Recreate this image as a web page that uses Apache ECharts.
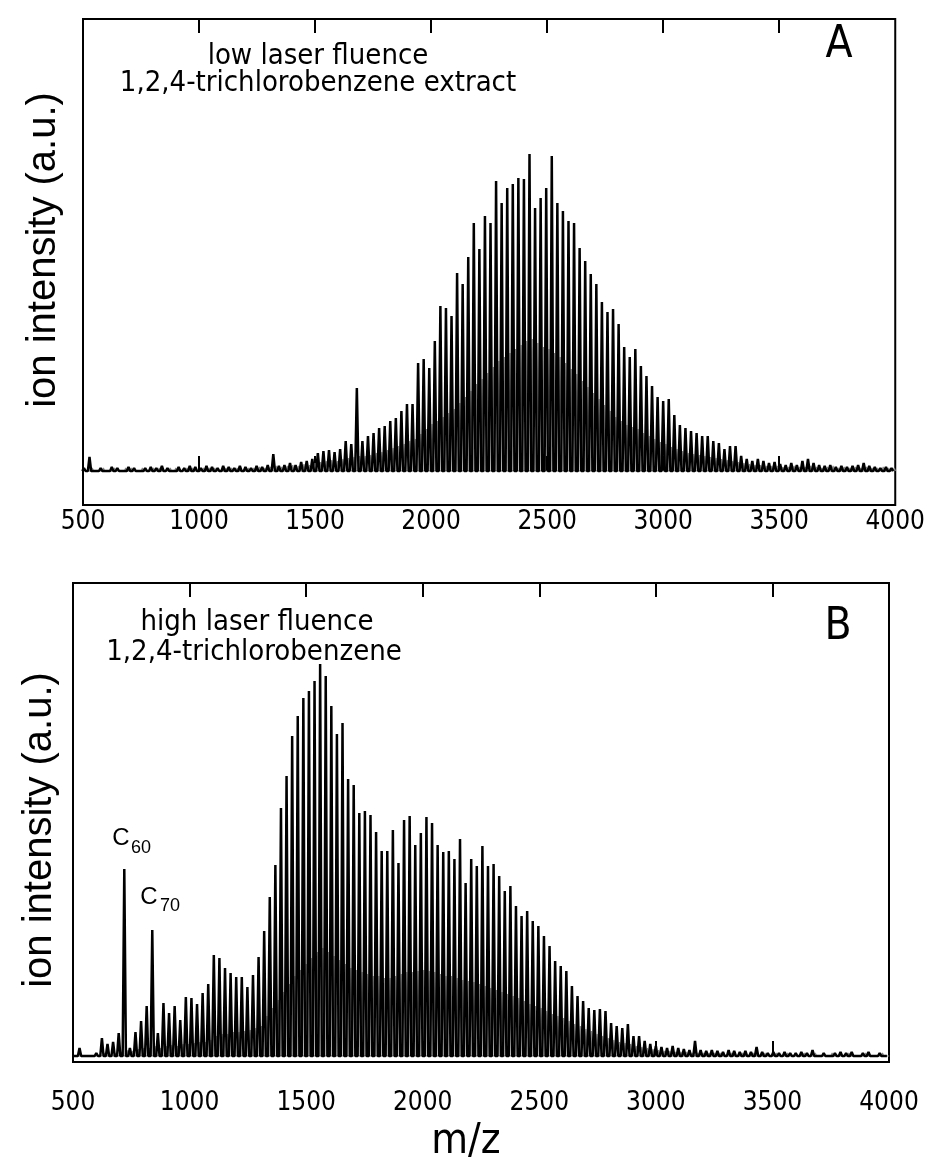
<!DOCTYPE html>
<html>
<head>
<meta charset="utf-8">
<script src="https://cdn.jsdelivr.net/npm/echarts@6/dist/echarts.min.js"></script>
<style>
html,body{margin:0;padding:0;background:#fff;}
#c{width:928px;height:1162px;}
</style>
</head>
<body>
<div id="c"></div>
<script>
// m/z positions of the C2-spaced fullerene peaks (C_n, n even)
const mz = [504,528,552,576,600,624,648,672,696,720,744,768,792,816,840,864,888,912,936,960,984,1008,1032,1056,1080,1104,1128,1152,1176,1200,1224,1248,1272,1296,1320,1344,1368,1392,1416,1440,1464,1488,1512,1536,1560,1584,1608,1632,1656,1680,1704,1728,1752,1776,1800,1824,1848,1872,1896,1920,1944,1968,1992,2016,2040,2064,2088,2112,2136,2160,2184,2208,2232,2256,2280,2304,2328,2352,2376,2400,2424,2448,2472,2496,2520,2544,2568,2592,2616,2640,2664,2688,2712,2736,2760,2784,2808,2832,2856,2880,2904,2928,2952,2976,3000,3024,3048,3072,3096,3120,3144,3168,3192,3216,3240,3264,3288,3312,3336,3360,3384,3408,3432,3456,3480,3504,3528,3552,3576,3600,3624,3648,3672,3696,3720,3744,3768,3792,3816,3840,3864,3888,3912,3936,3960,3984];

// Panel A: low laser fluence, main peak heights (a.u.)
const peaksA = [3,14,2,3,2,4,3,2,4,3,2,3,4,3,5,3,2,4,3,5,4,3,5,4,3,5,4,3,5,4,3,5,4,6,
  17,
  5,6,8,6,9,10,12,18,20,21,19,22,30,27,
  83,
  30,35,38,43,45,50,53,60,67,67,
  108,112,103,130,165,163,155,198,187,214,248,222,255,248,290,268,283,287,293,292,317,263,273,283,315,268,260,250,248,223,210,197,
  187,169,159,162,147,124,114,122,105,95,85,74,70,
  72,56,46,43,40,38,35,35,30,28,22,25,25,15,12,10,12,10,8,9,7,
  6,8,6,10,12,8,6,5,6,4,5,4,5,6,8,5,4,3,4,3];
// Panel A: unresolved intermediate peaks (between main peaks)
const interA = [2,3,2,3,2,3,2,3,3,2,3,2,3,3,2,3,3,2,3,3,2,3,3,3,2,3,3,3,2,3,3,4,3,4,
  5,4,5,6,5,7,6,8,9,10,11,10,12,13,14,
  15,15,16,18,19,21,23,25,27,30,32,
  37,42,47,50,54,58,62,
  68,74,80,87,92,98,104,110,
  114,118,122,126,130,132,128,124,122,118,114,
  108,102,97,90,84,78,72,
  66,60,54,50,46,44,42,
  38,35,32,29,27,24,22,20,18,
  17,16,15,14,13,12,11,10,9,8,
  7,6,6,5,5,5,4,4,5,4,4,5,4,3,4,5,3,4,3,4,3,4,3,3,4,3,3];

// Panel B: high laser fluence, main peak heights (a.u.)
const peaksB = [2,8,2,2,3,18,12,14,23,
  187,
  8,24,35,50,
  126,
  23,53,43,50,36,59,58,52,63,72,
  101,98,88,83,79,79,69,81,99,125,159,191,248,
  280,320,340,358,365,375,392,380,350,322,333,
  277,271,243,245,241,224,205,205,226,193,236,240,211,223,239,233,211,204,205,197,217,173,197,190,210,190,192,
  180,165,170,150,140,145,135,130,120,110,95,90,
  85,70,60,55,48,46,47,45,33,30,28,32,20,20,15,12,10,
  9,8,10,8,7,6,15,6,5,6,5,4,6,5,4,5,4,9,4,3,4,3,4,3,3,4,3,6,2,3,2,3,4,3,4,2,3,4,2,3,2];
const interB = [1,1,2,1,2,3,2,3,4,
  6,5,7,8,8,10,8,10,11,10,12,12,13,14,14,16,
  20,22,22,24,24,25,26,28,30,
  40,48,56,64,72,80,
  86,92,98,104,108,104,100,96,92,
  88,86,84,82,80,80,78,78,80,82,84,84,85,86,85,84,82,80,80,78,76,75,74,72,70,68,66,
  64,62,60,58,55,52,50,48,45,42,40,38,
  35,32,30,27,25,22,20,18,16,
  14,13,12,10,9,8,7,6,
  5,5,4,4,4,3,3,3,3,3,3,2,3,2,3,2,3,2,3,2,3,2,3,2,2,3,2,3,2,2,3,2,2,3,2,2,3,2,2,3,2];

const tickValues = [1000,1500,2000,2500,3000,3500];

// build a stick spectrum: each peak rises from the baseline and returns to it
function spectrum(pos, h, offset, halfWidth) {
  const out = [];
  for (let i = 0; i < pos.length; i++) {
    const m = pos[i] + offset;
    out.push([m - halfWidth, 0], [m, h[i]], [m + halfWidth, 0]);
  }
  return out;
}

const NARROW = '"Liberation Sans Narrow", "DejaVu Sans Condensed", "Liberation Sans", sans-serif';
const SANS = '"Liberation Sans", Arial, sans-serif';

function bottomAxis(g, margin) {
  return {
    gridIndex: g, type: 'value', min: 500, max: 4000, interval: 500, position: 'bottom',
    axisLine: {show: false}, splitLine: {show: false},
    axisTick: {show: true, inside: true, length: 15, customValues: tickValues, lineStyle: {color: '#000', width: 2}},
    axisLabel: {show: true, margin: margin, color: '#000', fontFamily: NARROW, fontSize: 26, showMinLabel: true, showMaxLabel: true,
      formatter: function (v) { return String(v); }}
  };
}
function topAxis(g) {
  return {
    gridIndex: g, type: 'value', min: 500, max: 4000, interval: 500, position: 'top',
    axisLine: {show: false}, splitLine: {show: false}, axisLabel: {show: false},
    axisTick: {show: true, inside: true, length: 14, customValues: tickValues, lineStyle: {color: '#000', width: 2}}
  };
}

function label(text, x, y, font, extra) {
  return Object.assign({
    type: 'text', x: x, y: y, silent: true,
    style: {text: text, font: font, fill: '#000', align: 'center', verticalAlign: 'middle'}
  }, extra || {});
}

const chart = echarts.init(document.getElementById('c'), null, {renderer: 'canvas'});
chart.setOption({
  animation: false,
  backgroundColor: '#fff',
  grid: [
    {left: 83, top: 19, width: 817, height: 486, show: true, borderColor: '#000', borderWidth: 2, backgroundColor: 'transparent'},
    {left: 73, top: 583, width: 816, height: 479, show: true, borderColor: '#000', borderWidth: 2, backgroundColor: 'transparent'}
  ],
  xAxis: [bottomAxis(0, 4), topAxis(0), bottomAxis(1, 28), topAxis(1)],
  yAxis: [
    {gridIndex: 0, type: 'value', min: -34, max: 452, show: false},
    {gridIndex: 1, type: 'value', min: -6, max: 473, show: false}
  ],
  series: [
    {type: 'line', xAxisIndex: 0, yAxisIndex: 0, data: spectrum(mz, interA, 12, 5), showSymbol: false, silent: true,
      lineStyle: {color: '#858585', width: 1.2}, z: 1},
    {type: 'line', xAxisIndex: 0, yAxisIndex: 0, data: spectrum(mz, peaksA, 0, 7), showSymbol: false, silent: true,
      lineStyle: {color: '#000', width: 2.5}, z: 2},
    {type: 'line', xAxisIndex: 2, yAxisIndex: 1, data: spectrum(mz, interB, 12, 5), showSymbol: false, silent: true,
      lineStyle: {color: '#858585', width: 1.2}, z: 1},
    {type: 'line', xAxisIndex: 2, yAxisIndex: 1, data: spectrum(mz, peaksB, 0, 7), showSymbol: false, silent: true,
      lineStyle: {color: '#000', width: 2.5}, z: 2}
  ],
  graphic: [
    label('low laser fluence', 318, 56, '29px ' + NARROW),
    label('1,2,4-trichlorobenzene extract', 318, 83, '29px ' + NARROW),
    label('A', 839, 46, '44px ' + NARROW),
    label('high laser fluence', 257, 622, '29px ' + NARROW),
    label('1,2,4-trichlorobenzene', 254, 652, '29px ' + NARROW),
    label('B', 838, 628, '44px ' + NARROW),
    label('ion intensity (a.u.)', 44, 250, '40px ' + SANS, {rotation: Math.PI / 2}),
    label('ion intensity (a.u.)', 40, 830, '40px ' + SANS, {rotation: Math.PI / 2}),
    label('m/z', 466, 1142, '42px ' + NARROW),
    label('C', 121, 838, '24px ' + SANS),
    label('60', 141, 848, '18px ' + SANS),
    label('C', 149, 897, '24px ' + SANS),
    label('70', 170, 906, '18px ' + SANS)
  ]
});
</script>
</body>
</html>
